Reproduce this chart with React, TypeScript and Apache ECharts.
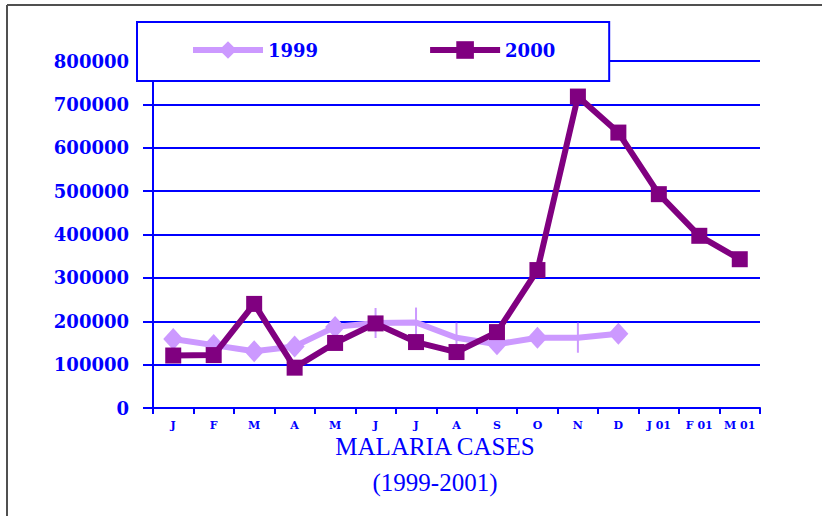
import React, { useEffect, useRef } from "react";
import * as echarts from "echarts";

const months = ["J", "F", "M", "A", "M", "J", "J", "A", "S", "O", "N", "D", "J 01", "F 01", "M 01"];
const cases1999 = [159000, 145000, 131000, 142000, 187000, 196000, 197000, 162000, 147000, 162000, 162000, 171000];
const cases2000 = [121000, 122000, 240000, 93000, 150000, 195000, 152000, 129000, 175000, 318000, 718000, 635000, 493000, 397000, 343000];
const yTicks = [0, 100000, 200000, 300000, 400000, 500000, 600000, 700000, 800000];
const seriesNames = ["1999", "2000"];
const titleLines = ["MALARIA CASES", "(1999-2001)"];
// points of 1999 drawn without a diamond (only a thin vertical mark in the source)
const thinMarks1999 = [5, 6, 7, 10];

const BLUE = "#0000FF";
const C1999 = "#CC99FF";
const C2000 = "#800080";

export default function App() {
  const ref = useRef<HTMLDivElement>(null);
  useEffect(() => {
    if (!ref.current) return;
    const chart = echarts.init(ref.current, null, { renderer: "svg" });
    const data1999 = cases1999.map((v, i) =>
      thinMarks1999.includes(i)
        ? { value: v, symbol: "rect", symbolSize: [2, 30] }
        : { value: v }
    );
    chart.setOption({
      animation: false,
      backgroundColor: "#ffffff",
      title: {
        text: titleLines[0],
        subtext: titleLines[1],
        left: 435,
        top: 434,
        textAlign: "center",
        itemGap: 11,
        padding: 0,
        textStyle: {
          fontFamily: "Liberation Serif",
          fontWeight: "normal",
          fontSize: 25,
          color: BLUE,
          lineHeight: 25,
        },
        subtextStyle: {
          fontFamily: "Liberation Serif",
          fontWeight: "normal",
          fontSize: 25,
          color: BLUE,
          lineHeight: 25,
        },
      },
      legend: {
        data: seriesNames,
        left: 137,
        top: 22,
        orient: "horizontal",
        padding: [19, 54, 22, 53],
        itemGap: 109,
        itemWidth: 70,
        itemHeight: 22,
        backgroundColor: "#ffffff",
        borderColor: BLUE,
        borderWidth: 2,
        borderRadius: 0,
        z: 10,
        lineStyle: { width: 6 },
        textStyle: {
          fontFamily: "DejaVu Serif",
          fontWeight: "bold",
          fontSize: 18,
          color: BLUE,
          padding: [0, 0, 0, 0],
        },
      },
      grid: {
        left: 153,
        right: 62,
        top: 61,
        bottom: 108,
        containLabel: false,
      },
      xAxis: {
        type: "category",
        data: months,
        boundaryGap: true,
        axisLine: { show: true, lineStyle: { color: BLUE, width: 2 } },
        axisTick: { show: true, length: 6, lineStyle: { color: BLUE, width: 2 }, alignWithLabel: false },
        axisLabel: {
          margin: 12,
          fontFamily: "DejaVu Serif",
          fontWeight: "bold",
          fontSize: 11,
          color: BLUE,
          interval: 0,
        },
        splitLine: { show: false },
      },
      yAxis: {
        type: "value",
        min: yTicks[0],
        max: yTicks[yTicks.length - 1],
        interval: yTicks[1] - yTicks[0],
        axisLine: { show: true, lineStyle: { color: BLUE, width: 2 } },
        axisTick: { show: true, length: 10, inside: false, lineStyle: { color: BLUE, width: 2 } },
        axisLabel: {
          margin: 24,
          fontFamily: "DejaVu Serif",
          fontWeight: "bold",
          fontSize: 18,
          color: BLUE,
          formatter: (v: number) => String(v),
        },
        splitLine: { show: true, lineStyle: { color: BLUE, width: 2 } },
      },
      graphic: [
        {
          type: "line",
          shape: { x1: 7, y1: 5, x2: 822, y2: 5 },
          style: { stroke: "#505050", lineWidth: 2 },
          z: 100,
        },
        {
          type: "line",
          shape: { x1: 7, y1: 5, x2: 7, y2: 516 },
          style: { stroke: "#505050", lineWidth: 2 },
          z: 100,
        },
      ],
      series: [
        {
          name: seriesNames[0],
          type: "line",
          data: data1999,
          symbol: "diamond",
          symbolSize: [20, 22],
          showAllSymbol: true,
          lineStyle: { color: C1999, width: 6 },
          itemStyle: { color: C1999, borderWidth: 0 },
          z: 2,
        },
        {
          name: seriesNames[1],
          type: "line",
          data: cases2000,
          symbol: "rect",
          symbolSize: 16,
          showAllSymbol: true,
          lineStyle: { color: C2000, width: 6 },
          itemStyle: { color: C2000, borderWidth: 0 },
          z: 3,
        },
      ],
    });
    return () => chart.dispose();
  }, []);
  return (
    <div
      ref={ref}
      style={{ position: "fixed", left: 0, top: 0, width: 822, height: 516 }}
    />
  );
}
